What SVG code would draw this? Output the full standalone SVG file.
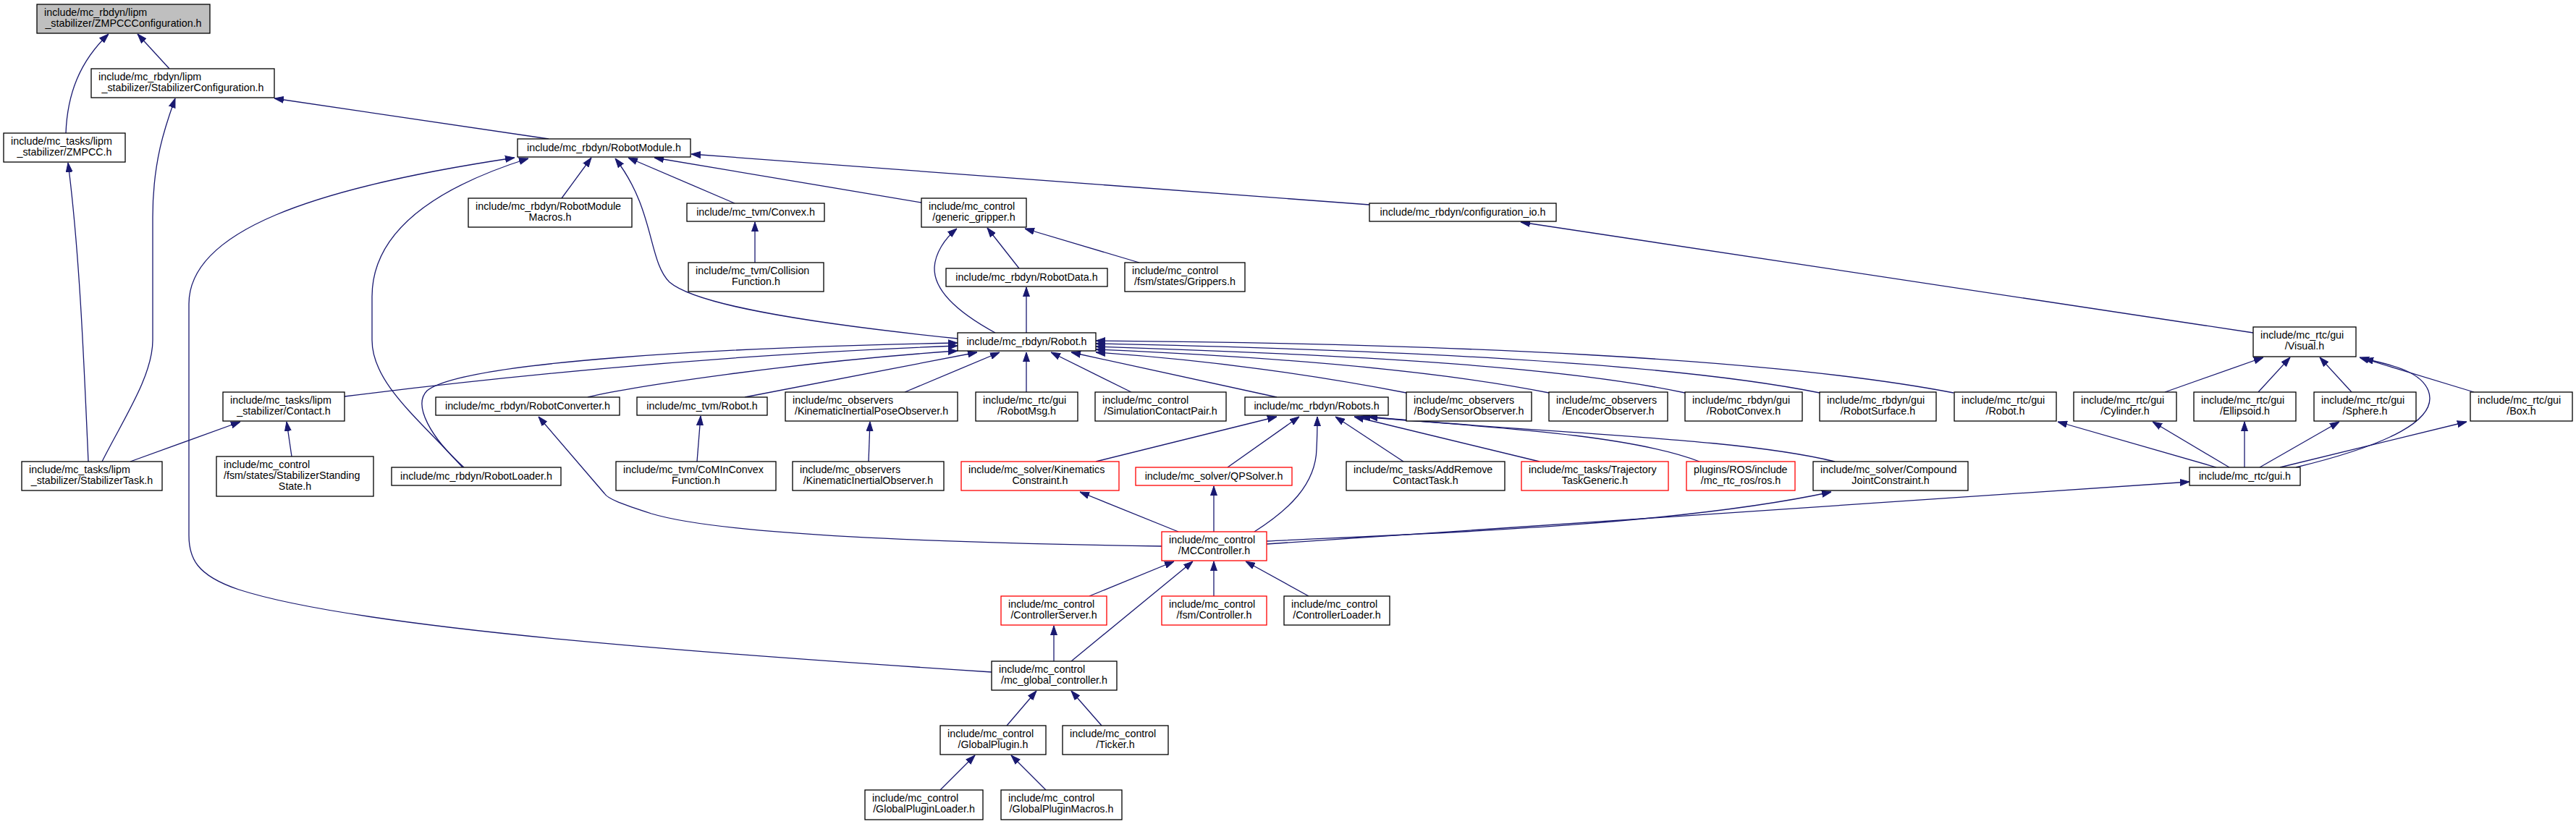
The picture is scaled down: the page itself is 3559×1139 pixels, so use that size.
<svg xmlns="http://www.w3.org/2000/svg" width="3559" height="1139" viewBox="0 0 3559 1139">
<defs>
<marker id="a" markerUnits="userSpaceOnUse" viewBox="0 0 13 10" refX="13" refY="5" markerWidth="13" markerHeight="10" orient="auto">
<path d="M0,0.5 L13,5 L0,9.5 z" fill="#191970" stroke="#191970" stroke-width="1"/>
</marker>
</defs>
<style>
.n rect{fill:#fff;stroke:#000;stroke-width:1.3}
.n.r rect{stroke:#ff0000}
.n.root rect{fill:#bfbfbf}
text{font-family:"Liberation Sans",Arial,sans-serif;font-size:14.3px;fill:#000}
.m{text-anchor:middle}
#edges path{fill:none;stroke:#191970;stroke-width:1.3;marker-end:url(#a)}
</style>
<rect width="3559" height="1139" fill="#fff"/>
<g id="edges">
<path d="M91,184 C93,130 110,85 150,47"/>
<path d="M234,95 L190,47"/>
<path d="M758,192 L379,136"/>
<path d="M122,638 C116,500 110,350 94,225"/>
<path d="M141,638 C170,580 211,520 211,470 L211,300 C211,220 230,170 242,136"/>
<path d="M180,638 L332,583"/>
<path d="M403,631 L396,583"/>
<path d="M1370,929 C1000,905 500,870 330,815 C270,795 261,770 261,740 L261,420 C261,320 430,260 711,218"/>
<path d="M639,646 C580,580 514,530 514,470 L514,410 C514,320 600,260 730,219"/>
<path d="M776,274 L817,218"/>
<path d="M1323,468 C1100,445 960,420 925,390 C895,360 905,290 850,219"/>
<path d="M1015,281 L868,218"/>
<path d="M1273,280 L904,218"/>
<path d="M1892,283 L955,213"/>
<path d="M1043,363 L1043,307"/>
<path d="M1375,460 C1320,430 1290,400 1291,370 C1292,350 1305,330 1322,316"/>
<path d="M1408,371 L1364,315"/>
<path d="M1574,363 L1416,316"/>
<path d="M3113,460 L2101,307"/>
<path d="M1418,460 L1418,397"/>
<path d="M1029,549 L1350,487"/>
<path d="M1250,542 L1381,487"/>
<path d="M1418,542 L1418,487"/>
<path d="M1563,542 L1452,487"/>
<path d="M1764,549 L1480,487"/>
<path d="M476,548 C700,520 1000,490 1323,478"/>
<path d="M812,549 C870,535 1100,500 1323,485"/>
<path d="M641,646 C595,605 570,560 590,540 C640,500 1000,480 1323,474"/>
<path d="M2699,543 C2450,495 2000,475 1514,471"/>
<path d="M2514,543 C2300,500 1900,483 1514,475"/>
<path d="M2328,543 C2150,505 1850,490 1514,479"/>
<path d="M2140,543 C2000,515 1800,495 1514,483"/>
<path d="M1943,543 C1850,525 1700,500 1514,487"/>
<path d="M1200,638 L1202,583"/>
<path d="M963,638 L968,575"/>
<path d="M1514,638 L1764,576"/>
<path d="M1696,646 L1795,576"/>
<path d="M1733,735 C1780,705 1818,670 1819,620 C1820,600 1820,590 1820,576"/>
<path d="M1939,638 L1845,576"/>
<path d="M2127,638 L1871,576"/>
<path d="M2348,638 C2250,600 2050,590 1880,576"/>
<path d="M2535,638 C2400,605 2150,600 1890,576"/>
<path d="M1628,735 L1492,680"/>
<path d="M1677,735 L1677,672"/>
<path d="M1605,755 C1300,750 1000,740 900,710 C860,697 840,690 835,682 L744,576"/>
<path d="M1750,748 C1900,740 2300,730 2530,680"/>
<path d="M1750,752 L3025,666"/>
<path d="M2991,542 L3127,494"/>
<path d="M3120,542 L3164,494"/>
<path d="M3249,542 L3205,494"/>
<path d="M3418,542 L3260,494"/>
<path d="M3172,646 C3300,615 3370,580 3355,540 C3345,515 3310,505 3266,496"/>
<path d="M3062,646 L2843,583"/>
<path d="M3080,646 L2974,583"/>
<path d="M3101,646 L3101,583"/>
<path d="M3122,646 L3232,583"/>
<path d="M3150,646 L3408,583"/>
<path d="M1505,824 L1622,776"/>
<path d="M1480,914 L1648,776"/>
<path d="M1677,824 L1677,776"/>
<path d="M1808,824 L1721,776"/>
<path d="M1456,914 L1456,865"/>
<path d="M1391,1003 L1432,955"/>
<path d="M1522,1003 L1480,955"/>
<path d="M1299,1092 L1347,1044"/>
<path d="M1445,1092 L1397,1044"/>
</g>
<g id="n_root" class="n root"><rect x="51" y="6" width="239" height="40"/><text x="61" y="22">include/mc_rbdyn/lipm</text><text class="m" x="170.5" y="37">_stabilizer/ZMPCCConfiguration.h</text></g>
<g id="n_stabconf" class="n"><rect x="126" y="95" width="253" height="40"/><text x="136" y="111">include/mc_rbdyn/lipm</text><text class="m" x="252.5" y="126">_stabilizer/StabilizerConfiguration.h</text></g>
<g id="n_zmpcc" class="n"><rect x="5" y="184" width="168" height="40"/><text x="15" y="200">include/mc_tasks/lipm</text><text class="m" x="89" y="215">_stabilizer/ZMPCC.h</text></g>
<g id="n_robotmodule" class="n"><rect x="715" y="192" width="239" height="25"/><text class="m" x="834.5" y="209">include/mc_rbdyn/RobotModule.h</text></g>
<g id="n_rmmacros" class="n"><rect x="647" y="274" width="226" height="40"/><text x="657" y="290">include/mc_rbdyn/RobotModule</text><text class="m" x="760" y="305">Macros.h</text></g>
<g id="n_convex" class="n"><rect x="949" y="281" width="190" height="25"/><text class="m" x="1044" y="298">include/mc_tvm/Convex.h</text></g>
<g id="n_collision" class="n"><rect x="951" y="363" width="187" height="40"/><text x="961" y="379">include/mc_tvm/Collision</text><text class="m" x="1044.5" y="394">Function.h</text></g>
<g id="n_gripper" class="n"><rect x="1273" y="274" width="145" height="40"/><text x="1283" y="290">include/mc_control</text><text class="m" x="1345.5" y="305">/generic_gripper.h</text></g>
<g id="n_robotdata" class="n"><rect x="1307" y="371" width="223" height="25"/><text class="m" x="1418.5" y="388">include/mc_rbdyn/RobotData.h</text></g>
<g id="n_grippers" class="n"><rect x="1554" y="363" width="166" height="40"/><text x="1564" y="379">include/mc_control</text><text class="m" x="1637" y="394">/fsm/states/Grippers.h</text></g>
<g id="n_confio" class="n"><rect x="1892" y="281" width="258" height="25"/><text class="m" x="2021" y="298">include/mc_rbdyn/configuration_io.h</text></g>
<g id="n_visual" class="n"><rect x="3113" y="452" width="142" height="41"/><text x="3123" y="468">include/mc_rtc/gui</text><text class="m" x="3184" y="483">/Visual.h</text></g>
<g id="n_robot" class="n"><rect x="1323" y="460" width="191" height="25"/><text class="m" x="1418.5" y="477">include/mc_rbdyn/Robot.h</text></g>
<g id="n_contact" class="n"><rect x="308" y="542" width="168" height="40"/><text x="318" y="558">include/mc_tasks/lipm</text><text class="m" x="392" y="573">_stabilizer/Contact.h</text></g>
<g id="n_robotconverter" class="n"><rect x="602" y="549" width="254" height="25"/><text class="m" x="729" y="566">include/mc_rbdyn/RobotConverter.h</text></g>
<g id="n_tvmrobot" class="n"><rect x="880" y="549" width="180" height="25"/><text class="m" x="970" y="566">include/mc_tvm/Robot.h</text></g>
<g id="n_kipo" class="n"><rect x="1085" y="542" width="238" height="40"/><text x="1095" y="558">include/mc_observers</text><text class="m" x="1204" y="573">/KinematicInertialPoseObserver.h</text></g>
<g id="n_robotmsg" class="n"><rect x="1348" y="542" width="141" height="40"/><text x="1358" y="558">include/mc_rtc/gui</text><text class="m" x="1418.5" y="573">/RobotMsg.h</text></g>
<g id="n_simcp" class="n"><rect x="1513" y="542" width="181" height="40"/><text x="1523" y="558">include/mc_control</text><text class="m" x="1603.5" y="573">/SimulationContactPair.h</text></g>
<g id="n_robots" class="n"><rect x="1720" y="549" width="198" height="25"/><text class="m" x="1819" y="566">include/mc_rbdyn/Robots.h</text></g>
<g id="n_bodysensor" class="n"><rect x="1943" y="542" width="173" height="40"/><text x="1953" y="558">include/mc_observers</text><text class="m" x="2029.5" y="573">/BodySensorObserver.h</text></g>
<g id="n_encoder" class="n"><rect x="2140" y="542" width="164" height="40"/><text x="2150" y="558">include/mc_observers</text><text class="m" x="2222" y="573">/EncoderObserver.h</text></g>
<g id="n_robotconvex" class="n"><rect x="2328" y="542" width="162" height="40"/><text x="2338" y="558">include/mc_rbdyn/gui</text><text class="m" x="2409" y="573">/RobotConvex.h</text></g>
<g id="n_robotsurface" class="n"><rect x="2514" y="542" width="161" height="40"/><text x="2524" y="558">include/mc_rbdyn/gui</text><text class="m" x="2594.5" y="573">/RobotSurface.h</text></g>
<g id="n_guirobot" class="n"><rect x="2700" y="542" width="141" height="40"/><text x="2710" y="558">include/mc_rtc/gui</text><text class="m" x="2770.5" y="573">/Robot.h</text></g>
<g id="n_cylinder" class="n"><rect x="2865" y="542" width="142" height="40"/><text x="2875" y="558">include/mc_rtc/gui</text><text class="m" x="2936" y="573">/Cylinder.h</text></g>
<g id="n_ellipsoid" class="n"><rect x="3031" y="542" width="141" height="40"/><text x="3041" y="558">include/mc_rtc/gui</text><text class="m" x="3101.5" y="573">/Ellipsoid.h</text></g>
<g id="n_sphere" class="n"><rect x="3197" y="542" width="141" height="40"/><text x="3207" y="558">include/mc_rtc/gui</text><text class="m" x="3267.5" y="573">/Sphere.h</text></g>
<g id="n_box" class="n"><rect x="3413" y="542" width="141" height="40"/><text x="3423" y="558">include/mc_rtc/gui</text><text class="m" x="3483.5" y="573">/Box.h</text></g>
<g id="n_stabtask" class="n"><rect x="30" y="638" width="194" height="40"/><text x="40" y="654">include/mc_tasks/lipm</text><text class="m" x="127" y="669">_stabilizer/StabilizerTask.h</text></g>
<g id="n_standing" class="n"><rect x="299" y="631" width="217" height="55"/><text x="309" y="647">include/mc_control</text><text x="309" y="662">/fsm/states/StabilizerStanding</text><text class="m" x="407.5" y="677">State.h</text></g>
<g id="n_robotloader" class="n"><rect x="541" y="646" width="234" height="25"/><text class="m" x="658" y="663">include/mc_rbdyn/RobotLoader.h</text></g>
<g id="n_cominconvex" class="n"><rect x="851" y="638" width="221" height="40"/><text x="861" y="654">include/mc_tvm/CoMInConvex</text><text class="m" x="961.5" y="669">Function.h</text></g>
<g id="n_kio" class="n"><rect x="1095" y="638" width="209" height="40"/><text x="1105" y="654">include/mc_observers</text><text class="m" x="1199.5" y="669">/KinematicInertialObserver.h</text></g>
<g id="n_kincons" class="n r"><rect x="1328" y="638" width="218" height="40"/><text x="1338" y="654">include/mc_solver/Kinematics</text><text class="m" x="1437" y="669">Constraint.h</text></g>
<g id="n_qpsolver" class="n r"><rect x="1569" y="646" width="216" height="25"/><text class="m" x="1677" y="663">include/mc_solver/QPSolver.h</text></g>
<g id="n_addremove" class="n"><rect x="1860" y="638" width="219" height="40"/><text x="1870" y="654">include/mc_tasks/AddRemove</text><text class="m" x="1969.5" y="669">ContactTask.h</text></g>
<g id="n_trajectory" class="n r"><rect x="2102" y="638" width="203" height="40"/><text x="2112" y="654">include/mc_tasks/Trajectory</text><text class="m" x="2203.5" y="669">TaskGeneric.h</text></g>
<g id="n_ros" class="n r"><rect x="2330" y="638" width="150" height="40"/><text x="2340" y="654">plugins/ROS/include</text><text class="m" x="2405" y="669">/mc_rtc_ros/ros.h</text></g>
<g id="n_compound" class="n"><rect x="2505" y="638" width="214" height="40"/><text x="2515" y="654">include/mc_solver/Compound</text><text class="m" x="2612" y="669">JointConstraint.h</text></g>
<g id="n_gui" class="n"><rect x="3025" y="646" width="153" height="25"/><text class="m" x="3101.5" y="663">include/mc_rtc/gui.h</text></g>
<g id="n_mccontroller" class="n r"><rect x="1605" y="735" width="145" height="40"/><text x="1615" y="751">include/mc_control</text><text class="m" x="1677.5" y="766">/MCController.h</text></g>
<g id="n_ctrlserver" class="n r"><rect x="1383" y="824" width="146" height="40"/><text x="1393" y="840">include/mc_control</text><text class="m" x="1456" y="855">/ControllerServer.h</text></g>
<g id="n_fsmctrl" class="n r"><rect x="1605" y="824" width="145" height="40"/><text x="1615" y="840">include/mc_control</text><text class="m" x="1677.5" y="855">/fsm/Controller.h</text></g>
<g id="n_ctrlloader" class="n"><rect x="1774" y="824" width="146" height="40"/><text x="1784" y="840">include/mc_control</text><text class="m" x="1847" y="855">/ControllerLoader.h</text></g>
<g id="n_globalctrl" class="n"><rect x="1370" y="914" width="173" height="40"/><text x="1380" y="930">include/mc_control</text><text class="m" x="1456.5" y="945">/mc_global_controller.h</text></g>
<g id="n_globalplugin" class="n"><rect x="1299" y="1003" width="146" height="40"/><text x="1309" y="1019">include/mc_control</text><text class="m" x="1372" y="1034">/GlobalPlugin.h</text></g>
<g id="n_ticker" class="n"><rect x="1468" y="1003" width="146" height="40"/><text x="1478" y="1019">include/mc_control</text><text class="m" x="1541" y="1034">/Ticker.h</text></g>
<g id="n_gploader" class="n"><rect x="1195" y="1092" width="163" height="41"/><text x="1205" y="1108">include/mc_control</text><text class="m" x="1276.5" y="1123">/GlobalPluginLoader.h</text></g>
<g id="n_gpmacros" class="n"><rect x="1383" y="1092" width="167" height="41"/><text x="1393" y="1108">include/mc_control</text><text class="m" x="1466.5" y="1123">/GlobalPluginMacros.h</text></g>
</svg>
